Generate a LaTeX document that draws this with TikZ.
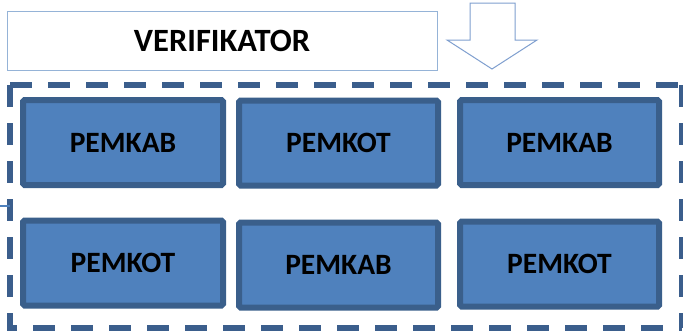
\documentclass[tikz,border=0pt]{standalone}
\usepackage{fontspec}
\setmainfont{Carlito}
\definecolor{boxfill}{HTML}{4F81BD}
\definecolor{boxedge}{HTML}{3A5F8B}
\definecolor{dashblue}{HTML}{3B5E8C}
\definecolor{lightedge}{HTML}{95B3D7}
\definecolor{arrowedge}{HTML}{7F9FCF}
\begin{document}
\begin{tikzpicture}[x=1pt,y=-1pt,
  unit/.style={draw=boxedge, fill=boxfill, line width=6pt, rounded corners=1.5pt,
    minimum width=200pt, minimum height=85pt, inner sep=0pt,
    font=\fontsize{29.5}{31}\selectfont\bfseries, text=black},
  verbox/.style={draw=lightedge, fill=white, line width=1pt,
    minimum width=430pt, minimum height=59pt, inner sep=0pt,
    font=\fontsize{32.5}{34}\selectfont\bfseries, text=black},
  dashframe/.style={draw=dashblue, line width=6pt, dash pattern=on 22pt off 16pt}
]
\useasboundingbox (0,0) rectangle (683,332);
% dashed frame
\draw[dashframe] (10,85) -- (682,85) (10,85) -- (10,328) -- (682,328) (682,85) -- (682,328);
% verifikator
\node[verbox] (ver) at (222,40.5) {VERIFIKATOR};
% block arrow
\draw[arrowedge, line width=1pt, fill=white, line join=miter]
  (470,3) -- (515,3) -- (515,40) -- (537,40) -- (492,69) -- (447,40) -- (470,40) -- cycle;
% boxes
\node[unit] (a1) at (123,142.5) {PEMKAB};
\node[unit, minimum width=199pt] (a2) at (338.5,143) {PEMKOT};
\node[unit, minimum width=199pt] (a3) at (559.5,142.5) {PEMKAB};
\node[unit] (b1) at (123,263) {PEMKOT};
\node[unit, minimum width=199pt] (b2) at (338.5,265) {PEMKAB};
\node[unit, minimum width=199pt] (b3) at (559.5,264) {PEMKOT};
% stub connector at left
\coordinate (stubL) at (0,206);
\coordinate (stubR) at (10,206);
\draw[boxfill, line width=2.5pt] (stubL) -- (stubR);
\end{tikzpicture}
\end{document}
